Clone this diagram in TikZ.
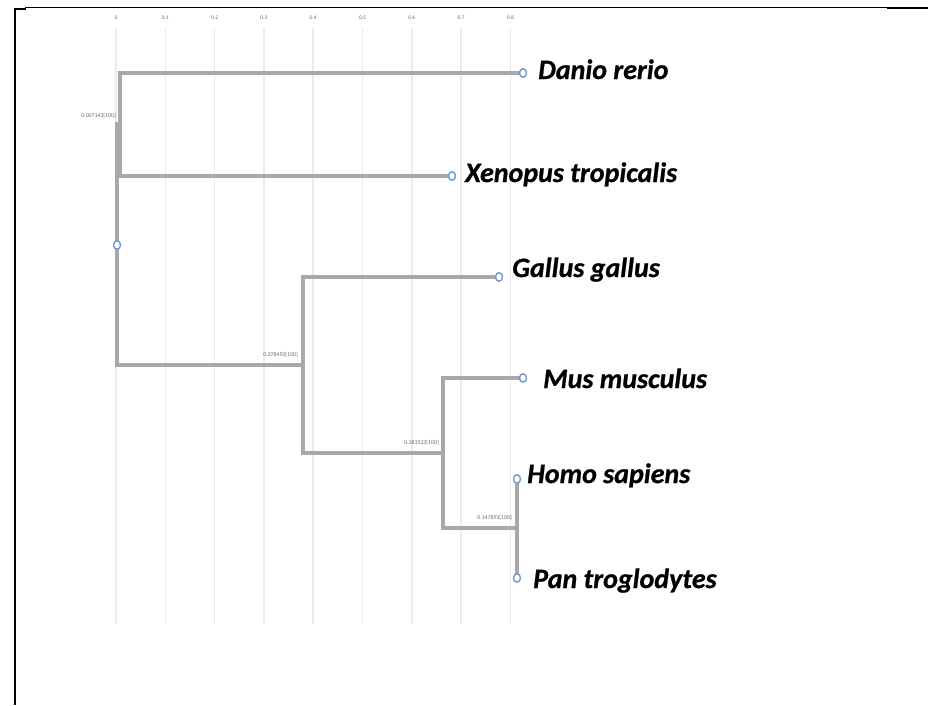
\documentclass[tikz,border=0pt]{standalone}
\usepackage{fontspec}
\usetikzlibrary{shapes.geometric}
\setmainfont{Carlito}
\newfontfamily\taxonfont{Carlito}[UprightFont=*-BoldItalic,FakeBold=0.8]
\definecolor{branchgrey}{HTML}{A8A8A8}
\definecolor{gridgrey}{HTML}{EBEBEB}
\definecolor{tipblue}{HTML}{6F9BC8}
\definecolor{labelgrey}{HTML}{6A6A6A}
\begin{document}
\begin{tikzpicture}[x=1pt,y=-1pt,
  branch/.style={draw=branchgrey,line width=3.4pt},
  gridline/.style={draw=gridgrey,line width=1.5pt},
  leaf/.style={ellipse,draw=tipblue,line width=1.4pt,minimum width=7pt,minimum height=8.5pt,inner sep=0pt,fill=white},
  taxon/.style={anchor=base west,inner sep=0pt,font=\fontsize{28}{32}\taxonfont},
  ticklabel/.style={inner sep=0pt,text=labelgrey,font=\fontsize{5.5}{6}\selectfont},
  support/.style={anchor=base east,inner sep=0pt,text=labelgrey,font=\fontsize{5.8}{6}\selectfont},
  frame/.style={draw=black}]
\useasboundingbox (0,0) rectangle (928,705);

% page frame
\draw[frame,line width=1.2pt] (25,7.5) -- (928,7.5);
\draw[frame,line width=2.5pt] (887,8.2) -- (928,8.2);
\draw[frame,line width=2.2pt] (15,8.5) -- (15,705);
\draw[frame,line width=1.6pt] (14,9) -- (26,9);

% distance scale
\foreach \i/\t in {0/0,1/0.1,2/0.2,3/0.3,4/0.4,5/0.5,6/0.6,7/0.7,8/0.8}{
  \pgfmathsetmacro\gx{116+49.3*\i}
  \draw[gridline] (\gx,28) -- (\gx,624);
  \node[ticklabel] (tick\i) at (\gx,18) {\t};
}

% leaves and internal nodes
\coordinate (danio) at (523,73);
\coordinate (xeno) at (452,176);
\coordinate (gallus) at (499,277);
\coordinate (mus) at (523,378);
\coordinate (homo) at (517,479);
\coordinate (pan) at (517,578);
\coordinate (n1) at (120,124);
\coordinate (root) at (117,245);
\coordinate (n2) at (303,365);
\coordinate (n3) at (443,453);
\coordinate (n4) at (517,528);

% branches
\draw[branch] (danio) -| (n1) |- (xeno);
\draw[branch] (n1) -| (root) |- (n2);
\draw[branch] (gallus) -| (n2) |- (n3);
\draw[branch] (mus) -| (n3) |- (n4);
\draw[branch] (homo) -- (pan);

% node markers
\node[leaf] (rootmark) at (root) {};
\node[leaf] (daniomark) at (danio) {};
\node[leaf] (xenomark) at (xeno) {};
\node[leaf] (gallusmark) at (gallus) {};
\node[leaf] (musmark) at (mus) {};
\node[leaf] (homomark) at (homo) {};
\node[leaf] (panmark) at (pan) {};

% support values
\node[support] (s1) at (116,117) {0.007143[100]};
\node[support] (s2) at (298,356) {0.278493[100]};
\node[support] (s3) at (439,444) {0.283523[100]};
\node[support] (s4) at (512,519) {0.147893[100]};

% taxon names
\node[taxon] (tdanio) at (538,79) {Danio rerio};
\node[taxon] (txeno) at (465,182) {Xenopus tropicalis};
\node[taxon] (tgallus) at (512,277) {Gallus gallus};
\node[taxon] (tmus) at (543,388) {Mus musculus};
\node[taxon] (thomo) at (527,483) {Homo sapiens};
\node[taxon] (tpan) at (533,588) {Pan troglodytes};
\end{tikzpicture}
\end{document}
